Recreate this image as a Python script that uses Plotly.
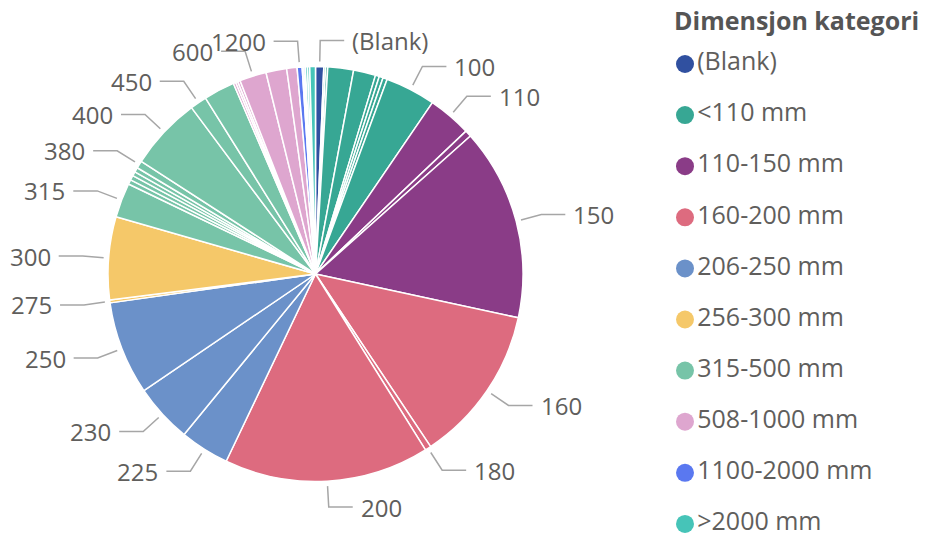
import math
import plotly.graph_objects as go

# ---------------- data ----------------
categories = ["(Blank)", "<110 mm", "110-150 mm", "160-200 mm", "206-250 mm",
              "256-300 mm", "315-500 mm", "508-1000 mm", "1100-2000 mm", ">2000 mm"]
cat_colors = ["#3050A0", "#37A794", "#8A3C87", "#DD6B7F", "#6B91C9",
              "#F5C869", "#77C4A8", "#DEA6CF", "#5A78F0", "#46C4B8"]

dims = ["(Blank)",
        "32", "40", "50", "63", "75", "80", "90", "100",
        "110", "125", "150",
        "160", "180", "200",
        "225", "230", "250",
        "275", "300",
        "315", "330", "340", "350", "355", "380", "400", "450", "500",
        "508", "520", "560", "600", "800", "1000",
        "1200", "1400", "1600",
        "2200", "2500", "3000"]
slice_cat = ["(Blank)",
             "<110 mm", "<110 mm", "<110 mm", "<110 mm", "<110 mm", "<110 mm", "<110 mm", "<110 mm",
             "110-150 mm", "110-150 mm", "110-150 mm",
             "160-200 mm", "160-200 mm", "160-200 mm",
             "206-250 mm", "206-250 mm", "206-250 mm",
             "256-300 mm", "256-300 mm",
             "315-500 mm", "315-500 mm", "315-500 mm", "315-500 mm", "315-500 mm",
             "315-500 mm", "315-500 mm", "315-500 mm", "315-500 mm",
             "508-1000 mm", "508-1000 mm", "508-1000 mm", "508-1000 mm", "508-1000 mm", "508-1000 mm",
             "1100-2000 mm", "1100-2000 mm", "1100-2000 mm",
             ">2000 mm", ">2000 mm", ">2000 mm"]
values = [2.3,
          0.5, 0.6, 7.2, 6.2, 1.1, 1.1, 1.2, 14.1,
          12.2, 1.8, 53.9,
          44.1, 1.7, 57.5,
          13.8, 16.5, 26.2,
          0.8, 23.2,
          9.7, 1.3, 1.3, 1.2, 1.3, 2.1, 20.4, 4.7, 8.7,
          0.7, 0.6, 0.7, 7.5, 5.8, 2.9,
          1.4, 0.45, 0.45,
          0.6, 0.6, 1.6]
labelled = ["(Blank)", "100", "110", "150", "160", "180", "200", "225", "230",
            "250", "275", "300", "315", "380", "400", "450", "600", "1200"]

legend_title = "Dimensjon kategori"

# ---------------- layout constants ----------------
W, H = 925, 538
cx, cy, R = 315.5, 274.0, 207.5          # pie centre / radius in pixels
FONT = "Segoe UI, Open Sans, sans-serif"
TXT = "#605E5C"
LINE = "#A6A6A6"
FS = 24
FS_LEG = 25

color_of = dict(zip(categories, cat_colors))
slice_colors = [color_of[c] for c in slice_cat]

fig = go.Figure()

fig.add_trace(go.Pie(
    labels=dims, values=values, sort=False, direction="clockwise", rotation=0,
    marker=dict(colors=slice_colors, line=dict(color="white", width=1.5)),
    textinfo="none", showlegend=False,
    customdata=slice_cat,
    hovertemplate="%{label}<br>%{customdata}<br>%{value}<extra></extra>",
    domain=dict(x=[(cx - R) / W, (cx + R) / W],
                y=[(H - cy - R) / H, (H - cy + R) / H]),
))

# ---------- leader lines and labels, derived from the slice angles ----------
total = sum(values)
cum = 0.0
r1, r2, hlen, gap = R + 5, R + 26, 24, 6
for d, v in zip(dims, values):
    mid = (cum + v / 2) / total * 2 * math.pi
    cum += v
    if d not in labelled:
        continue
    s, c = math.sin(mid), math.cos(mid)
    side = 1 if s >= 0 else -1
    x1, y1 = cx + r1 * s, cy - r1 * c
    x2, y2 = cx + r2 * s, cy - r2 * c
    x3, y3 = x2 + side * hlen, y2
    fig.add_trace(go.Scatter(x=[x1, x2, x3], y=[y1, y2, y3], mode="lines",
                             line=dict(color=LINE, width=1.5), hoverinfo="skip",
                             showlegend=False, xaxis="x", yaxis="y"))
    fig.add_annotation(x=x3 + side * gap, y=y3, xref="x", yref="y", text=d,
                       showarrow=False, xanchor="left" if side > 0 else "right",
                       yanchor="middle", font=dict(family=FONT, size=FS, color=TXT))

# ---------------- custom legend ----------------
leg_x, leg_y0, leg_dy = 685, 64, 51.1
fig.add_trace(go.Scatter(
    x=[leg_x] * len(categories),
    y=[leg_y0 + i * leg_dy for i in range(len(categories))],
    mode="markers+text", text=categories, textposition="middle right",
    marker=dict(size=18, color=cat_colors, symbol="circle"),
    textfont=dict(family=FONT, size=FS_LEG, color=TXT),
    hoverinfo="skip", showlegend=False, cliponaxis=False))
fig.add_annotation(x=672, y=20, xref="x", yref="y", text="<b>" + legend_title + "</b>",
                   showarrow=False, xanchor="left", yanchor="middle",
                   font=dict(family=FONT, size=FS_LEG, color="#555555"))

fig.update_layout(
    width=W, height=H, margin=dict(l=0, r=0, t=0, b=0),
    paper_bgcolor="white", plot_bgcolor="rgba(0,0,0,0)",
    xaxis=dict(range=[0, W], domain=[0, 1], visible=False, fixedrange=True),
    yaxis=dict(range=[H, 0], domain=[0, 1], visible=False, fixedrange=True),
    showlegend=False,
)

fig.write_html("out.html", config={"displayModeBar": False},
               post_script="document.body.style.margin='0';document.body.style.overflow='hidden';")
